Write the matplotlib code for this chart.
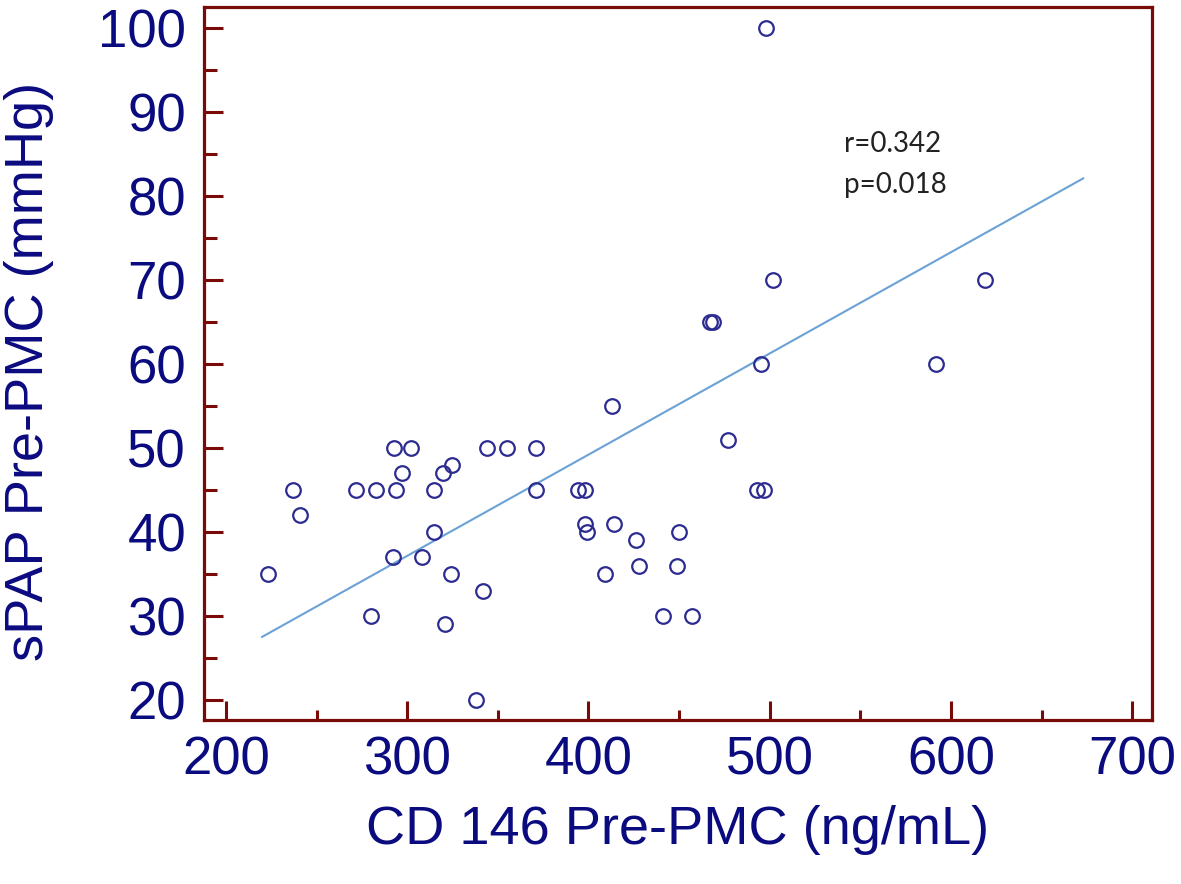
import matplotlib.pyplot as plt
from matplotlib.ticker import MultipleLocator

# CD146 pre-PMC (ng/mL) vs sPAP pre-PMC (mmHg)
cd146 = [223, 237, 241, 272, 283, 280, 293, 302, 297, 294,
         292, 308, 315, 315, 320, 325, 324, 321, 342, 338,
         344, 355, 371, 371, 394, 398, 398, 399, 409, 413,
         414, 426, 428, 441, 449, 450, 457, 467, 469, 477,
         493, 497, 495, 498, 502, 592, 619]
spap = [35, 45, 42, 45, 45, 30, 50, 50, 47, 45,
        37, 37, 40, 45, 47, 48, 35, 29, 33, 20,
        50, 50, 50, 45, 45, 45, 41, 40, 35, 55,
        41, 39, 36, 30, 36, 40, 30, 65, 65, 51,
        45, 45, 60, 100, 70, 60, 70]

# regression line end points
fit_x = [220, 673]
fit_y = [27.5, 82.1]

stats_text = "r=0.342\np=0.018"

spine_col = "#7a0a0a"
text_col = "#0b0b80"

fig = plt.figure(figsize=(11.81, 8.84), dpi=100)
ax = fig.add_axes([0.1727, 0.1855, 0.8028, 0.8065])

ax.plot(fit_x, fit_y, color="#6aa2d6", lw=1.5, zorder=2)
ax.plot(cd146, spap, "o", ms=10.5, mfc="none", mec="#2b2b90", mew=1.6, zorder=3)

ax.set_xlim(187.9, 711)
ax.set_ylim(17.6, 102.5)
ax.xaxis.set_major_locator(MultipleLocator(100))
ax.xaxis.set_minor_locator(MultipleLocator(50))
ax.yaxis.set_major_locator(MultipleLocator(10))
ax.yaxis.set_minor_locator(MultipleLocator(5))

for s in ax.spines.values():
    s.set_color(spine_col)
    s.set_linewidth(2.3)

ax.tick_params(which="both", direction="in", color=spine_col, width=2.2,
               top=False, right=False)
ax.tick_params(which="major", length=14, labelsize=38, labelcolor=text_col)
ax.tick_params(axis="y", which="major", pad=13)
ax.tick_params(axis="x", which="major", pad=11)
ax.tick_params(axis="x", which="minor", length=7)
ax.tick_params(axis="y", which="minor", length=9)

for lab in ax.get_xticklabels() + ax.get_yticklabels():
    lab.set_fontfamily("Liberation Sans")

ax.set_xlabel("CD 146 Pre-PMC (ng/mL)", fontsize=39, color=text_col,
              fontfamily="Liberation Sans", labelpad=14)
ax.set_ylabel("sPAP Pre-PMC (mmHg)", fontsize=39, color=text_col,
              fontfamily="Liberation Sans")
ax.yaxis.set_label_coords(-0.158, 0.489)

ax.text(541, 87.7, stats_text, fontsize=20, color="#222222",
        fontfamily="Lato", va="top", ha="left", linespacing=1.7)

fig.savefig("out.png", dpi=100)
